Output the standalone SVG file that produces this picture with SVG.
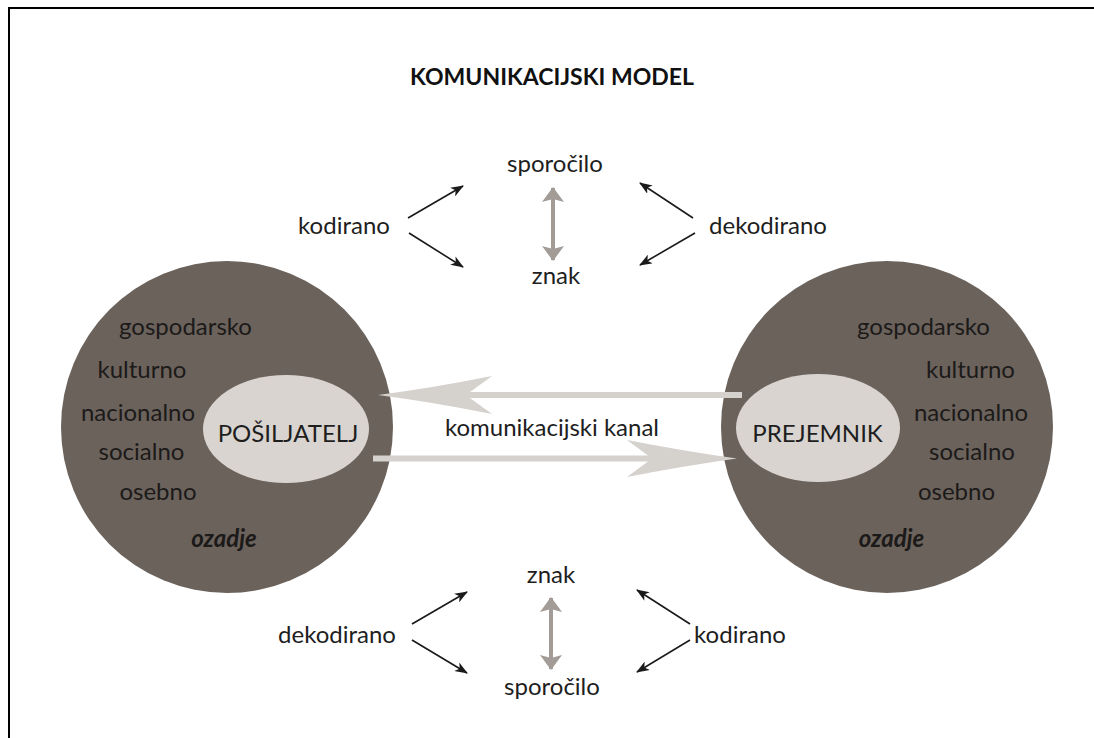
<svg xmlns="http://www.w3.org/2000/svg" width="1094" height="738" viewBox="0 0 1094 738">
  <style>
    .t { font-family: Lato, "Open Sans", "Liberation Sans", sans-serif; font-size: 24px; fill: #1e1e1e; text-anchor: middle; }
    .in { fill: #1c1a19; }
    .bi { font-weight: bold; font-style: italic; }
    .title { font-weight: bold; font-size: 23px; fill: #111; }
    .bg { fill: #6b625c; }
    .core { fill: #d9d4d0; }
    .blk { stroke: #1a1a1a; stroke-width: 1.6; fill: none; marker-end: url(#ah); }
    .gry { stroke: #a29b96; stroke-width: 4; fill: none; marker-start: url(#gh); marker-end: url(#gh); }
    .chan { fill: #d5d1cd; }
  </style>
  <defs>
    <marker id="ah" markerUnits="userSpaceOnUse" markerWidth="14" markerHeight="10" refX="12" refY="5" orient="auto">
      <path d="M0,0 L13,5 L0,10 L3.5,5 Z" fill="#1a1a1a"/>
    </marker>
    <marker id="gh" markerUnits="userSpaceOnUse" markerWidth="16" markerHeight="24" refX="14" refY="12" orient="auto-start-reverse">
      <path d="M0,1 L15,12 L0,23 L3,12 Z" fill="#a29b96"/>
    </marker>
  </defs>
  <rect width="1094" height="738" fill="#ffffff"/>
  <path d="M9,738 L9,8 L1094,8" fill="none" stroke="#000" stroke-width="2"/>

  <g id="title">
    <text class="t title" x="552" y="85">KOMUNIKACIJSKI MODEL</text>
  </g>

  <g id="sender">
    <circle class="bg" cx="227" cy="427" r="166"/>
    <ellipse class="core" cx="286" cy="429" rx="83" ry="54"/>
    <text class="t in" x="185.5" y="335">gospodarsko</text>
    <text class="t in" x="142" y="378">kulturno</text>
    <text class="t in" x="138" y="421">nacionalno</text>
    <text class="t in" x="141.5" y="460">socialno</text>
    <text class="t in" x="158" y="500">osebno</text>
    <text class="t in bi" x="224" y="547">ozadje</text>
    <text class="t" x="288" y="442">POŠILJATELJ</text>
  </g>

  <g id="receiver">
    <circle class="bg" cx="887" cy="427" r="166"/>
    <ellipse class="core" cx="818" cy="428" rx="82" ry="54"/>
    <text class="t in" x="923.5" y="335">gospodarsko</text>
    <text class="t in" x="970.5" y="378">kulturno</text>
    <text class="t in" x="971" y="421">nacionalno</text>
    <text class="t in" x="972" y="460">socialno</text>
    <text class="t in" x="956.5" y="500">osebno</text>
    <text class="t in bi" x="891.5" y="547">ozadje</text>
    <text class="t" x="817.5" y="442">PREJEMNIK</text>
  </g>

  <g id="top-labels">
    <text class="t" x="555" y="172">sporočilo</text>
    <text class="t" x="556" y="284">znak</text>
    <text class="t" x="344" y="234">kodirano</text>
    <text class="t" x="768" y="234">dekodirano</text>
  </g>

  <g id="bottom-labels">
    <text class="t" x="551" y="583">znak</text>
    <text class="t" x="552" y="695">sporočilo</text>
    <text class="t" x="337" y="643">dekodirano</text>
    <text class="t" x="740" y="643">kodirano</text>
    <text class="t" x="552" y="436">komunikacijski kanal</text>
  </g>

  <g id="connectors">
    <path class="chan" d="M378,395 Q432,388 492,376 L470,392 L742,392 L742,398 L470,398 L492,414 Q432,402 378,395 Z"/>
    <path class="chan" d="M737,458.5 Q683,451 627,440 L648,455.5 L373,455.5 L373,461.5 L648,461.5 L627,477 Q683,466 737,458.5 Z"/>
    <line class="gry" x1="553" y1="188" x2="553" y2="260"/>
    <line class="gry" x1="551" y1="598" x2="551" y2="669"/>
    <line class="blk" x1="408" y1="218" x2="463" y2="186"/>
    <line class="blk" x1="409" y1="233" x2="463" y2="267"/>
    <line class="blk" x1="693" y1="218" x2="640" y2="183"/>
    <line class="blk" x1="695" y1="233" x2="640" y2="265"/>
    <line class="blk" x1="412" y1="624" x2="467" y2="592"/>
    <line class="blk" x1="412" y1="640" x2="467" y2="673"/>
    <line class="blk" x1="690" y1="624" x2="637" y2="590"/>
    <line class="blk" x1="690" y1="640" x2="637" y2="672"/>
  </g>
</svg>
